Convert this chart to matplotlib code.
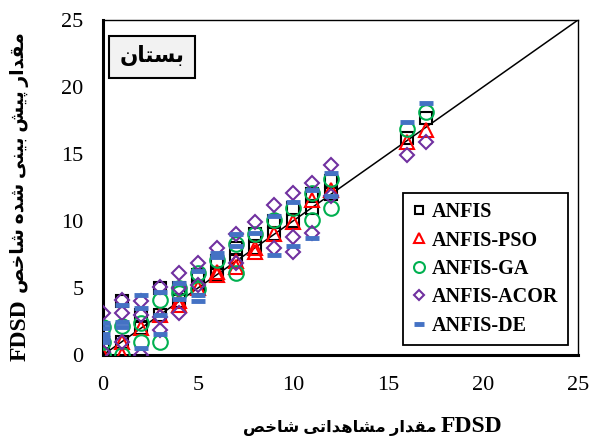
import matplotlib
matplotlib.use("Agg")
import matplotlib.pyplot as plt

# ---------------- data ----------------
anfis_x = [0, 0, 1, 1, 2, 2, 3, 3, 4, 4, 5, 5, 6, 6, 7, 7, 8, 8, 9, 9, 10, 10, 11, 11, 12, 12, 16, 17]
anfis_y = [0, 1, 4, 1, 2, 3, 5, 3, 4, 5, 5, 6, 6, 7, 7, 8, 8, 9, 9, 10, 10, 11, 11, 12, 12, 13, 16.2, 17.7]

pso_x = [0, 1, 1, 2, 3, 4, 4, 5, 6, 6, 7, 7, 8, 8, 9, 10, 11, 12, 16, 17]
pso_y = [0, 0, 1, 2, 3, 3.7, 4, 5, 6, 6.2, 6.6, 7, 7.7, 8, 9, 9.9, 11.6, 12.3, 15.9, 16.8]

ga_x = [0, 0, 0, 1, 1, 2, 2, 3, 3, 4, 4, 5, 5, 6, 7, 7, 8, 9, 10, 11, 11, 12, 12, 16, 17]
ga_y = [0, 1, 2.1, 0, 2.2, 1, 2.4, 4.1, 1, 4.6, 5, 4.9, 6.1, 7.1, 6.1, 8.3, 9, 10.1, 11, 10.1, 12.1, 11, 13.1, 16.9, 18.1]

acor_x = [0, 0, 1, 1, 1, 2, 2, 2, 3, 3, 3, 4, 4, 4, 5, 5, 6, 7, 7, 8, 9, 9, 10, 10, 10, 11, 11, 12, 12, 16, 17]
acor_y = [0.2, 3.1, 1, 3.1, 4.1, 0, 3, 4, 1.9, 2.8, 5.1, 3.1, 5, 6.1, 5.2, 6.9, 8, 6.9, 9, 9.9, 8, 11.2, 7.7, 8.8, 12.1, 9.1, 12.8, 11.9, 14.2, 14.9, 15.9]

de_x = [0, 0, 0, 0, 0, 1, 1, 1, 2, 2, 2, 3, 3, 3, 4, 4, 5, 5, 5, 6, 6, 7, 7, 8, 9, 9, 10, 10, 11, 11, 12, 12, 16, 17]
de_y = [1, 1.3, 1.6, 2, 2.4, 2.1, 2.5, 3.7, 0.5, 3.5, 4.5, 1.6, 3, 4.7, 4.2, 5.4, 4.0, 4.5, 6.3, 7.3, 7.6, 8.1, 9, 9.1, 7.5, 10.4, 8.1, 11.4, 8.7, 12.3, 11.9, 13.6, 17.4, 18.8]

series_names = ["ANFIS", "ANFIS-PSO", "ANFIS-GA", "ANFIS-ACOR", "ANFIS-DE"]
tick_values = [0, 5, 10, 15, 20, 25]

title_text = "بستان"
xlabel_ar = "مقدار مشاهداتی شاخص"
ylabel_ar = "مقدار پیش بینی شده شاخص"
label_latin = "FDSD"

# ---------------- simple Arabic/Persian shaping ----------------
FORMS = {  # isolated, final, initial, medial
    'ا': ('\uFE8D', '\uFE8E', None, None),
    'د': ('\uFEA9', '\uFEAA', None, None),
    'ر': ('\uFEAD', '\uFEAE', None, None),
    'ب': ('\uFE8F', '\uFE90', '\uFE91', '\uFE92'),
    'ت': ('\uFE95', '\uFE96', '\uFE97', '\uFE98'),
    'خ': ('\uFEA5', '\uFEA6', '\uFEA7', '\uFEA8'),
    'س': ('\uFEB1', '\uFEB2', '\uFEB3', '\uFEB4'),
    'ش': ('\uFEB5', '\uFEB6', '\uFEB7', '\uFEB8'),
    'ص': ('\uFEB9', '\uFEBA', '\uFEBB', '\uFEBC'),
    'ق': ('\uFED5', '\uFED6', '\uFED7', '\uFED8'),
    'م': ('\uFEE1', '\uFEE2', '\uFEE3', '\uFEE4'),
    'ن': ('\uFEE5', '\uFEE6', '\uFEE7', '\uFEE8'),
    'ه': ('\uFEE9', '\uFEEA', '\uFEEB', '\uFEEC'),
    'ی': ('\uFBFC', '\uFBFD', '\uFBFE', '\uFBFF'),
    'پ': ('\uFB56', '\uFB57', '\uFB58', '\uFB59'),
}


def shape(s):
    out = []
    for i, c in enumerate(s):
        if c not in FORMS:
            out.append(c)
            continue
        prev = s[i - 1] if i > 0 else None
        nxt = s[i + 1] if i + 1 < len(s) else None
        iso, fin, ini, med = FORMS[c]
        jp = prev in FORMS and FORMS[prev][2] is not None
        jn = nxt in FORMS and ini is not None
        if jp and jn:
            out.append(med)
        elif jp:
            out.append(fin)
        elif jn:
            out.append(ini)
        else:
            out.append(iso)
    return ''.join(reversed(out))


FAM = ['Liberation Serif', 'DejaVu Sans']
plt.rcParams['font.family'] = FAM

W, H = 590, 443
fig = plt.figure(figsize=(W / 100, H / 100), dpi=100)
ax = fig.add_axes([103 / W, 1 - 355 / H, (578 - 103) / W, (355 - 20) / H])

# 1:1 line
ax.plot([0, 25], [0, 25], color='black', lw=1.1, zorder=1)

ax.plot(anfis_x, anfis_y, linestyle='none', marker='s', markersize=8.5,
        markerfacecolor='none', markeredgecolor='black', markeredgewidth=1.5,
        label=series_names[0], zorder=2)
ax.plot(pso_x, pso_y, linestyle='none', marker='^', markersize=9.5,
        markerfacecolor='none', markeredgecolor='#FF0000', markeredgewidth=1.5,
        label=series_names[1], zorder=3)
ax.plot(ga_x, ga_y, linestyle='none', marker='o', markersize=10.5,
        markerfacecolor='none', markeredgecolor='#00B050', markeredgewidth=1.5,
        label=series_names[2], zorder=4)
ax.plot(acor_x, acor_y, linestyle='none', marker='D', markersize=6.8,
        markerfacecolor='none', markeredgecolor='#7030A0', markeredgewidth=1.5,
        label=series_names[3], zorder=5)
ax.plot(de_x, de_y, linestyle='none', marker='_', markersize=10,
        markeredgecolor='#4472C4', markeredgewidth=3.5,
        label=series_names[4], zorder=6)

ax.set_xlim(0, 25)
ax.set_ylim(0, 25)
ax.set_xticks(tick_values)
ax.set_yticks(tick_values)
ax.tick_params(axis='both', length=0, labelsize=16)
ax.tick_params(axis='x', pad=15)
ax.tick_params(axis='y', pad=14)

for side in ['left', 'bottom']:
    ax.spines[side].set_linewidth(2.2)
for side in ['top', 'right']:
    ax.spines[side].set_linewidth(1.0)

# legend
leg = ax.legend(loc='upper left', bbox_to_anchor=(403 / W, 1 - 193 / H),
                bbox_transform=fig.transFigure, frameon=True, fancybox=False,
                edgecolor='black', framealpha=1,
                prop={'family': FAM, 'weight': 'bold', 'size': 14.5},
                handlelength=0.7, handletextpad=0.3, markerscale=0.75,
                labelspacing=0.42, borderpad=0.45, borderaxespad=0)
leg.get_frame().set_linewidth(1.3)

# title box
fig.text(152 / W, 1 - 57 / H, shape(title_text), ha='center', va='center',
         fontsize=15.5, fontweight='bold', family=FAM,
         bbox=dict(boxstyle='square,pad=0.48', facecolor='#F2F2F2',
                   edgecolor='black', linewidth=1.5))

# x axis label (Arabic part + Latin part)
fig.text(437 / W, 1 - 432 / H, shape(xlabel_ar), ha='right', va='baseline',
         fontsize=11.8, fontweight='bold', family=FAM)
fig.text(441 / W, 1 - 432 / H, label_latin, ha='left', va='baseline',
         fontsize=17, fontweight='bold', family=FAM)

# y axis label (rotated)
fig.text(20 / W, 1 - 330 / H, label_latin, ha='center', va='center', rotation=90,
         fontsize=17, fontweight='bold', family=FAM)
fig.text(20 / W, 1 - 163 / H, shape(ylabel_ar), ha='center', va='center', rotation=90,
         fontsize=13.5, fontweight='bold', family=FAM)

fig.savefig('out.png', dpi=100)
